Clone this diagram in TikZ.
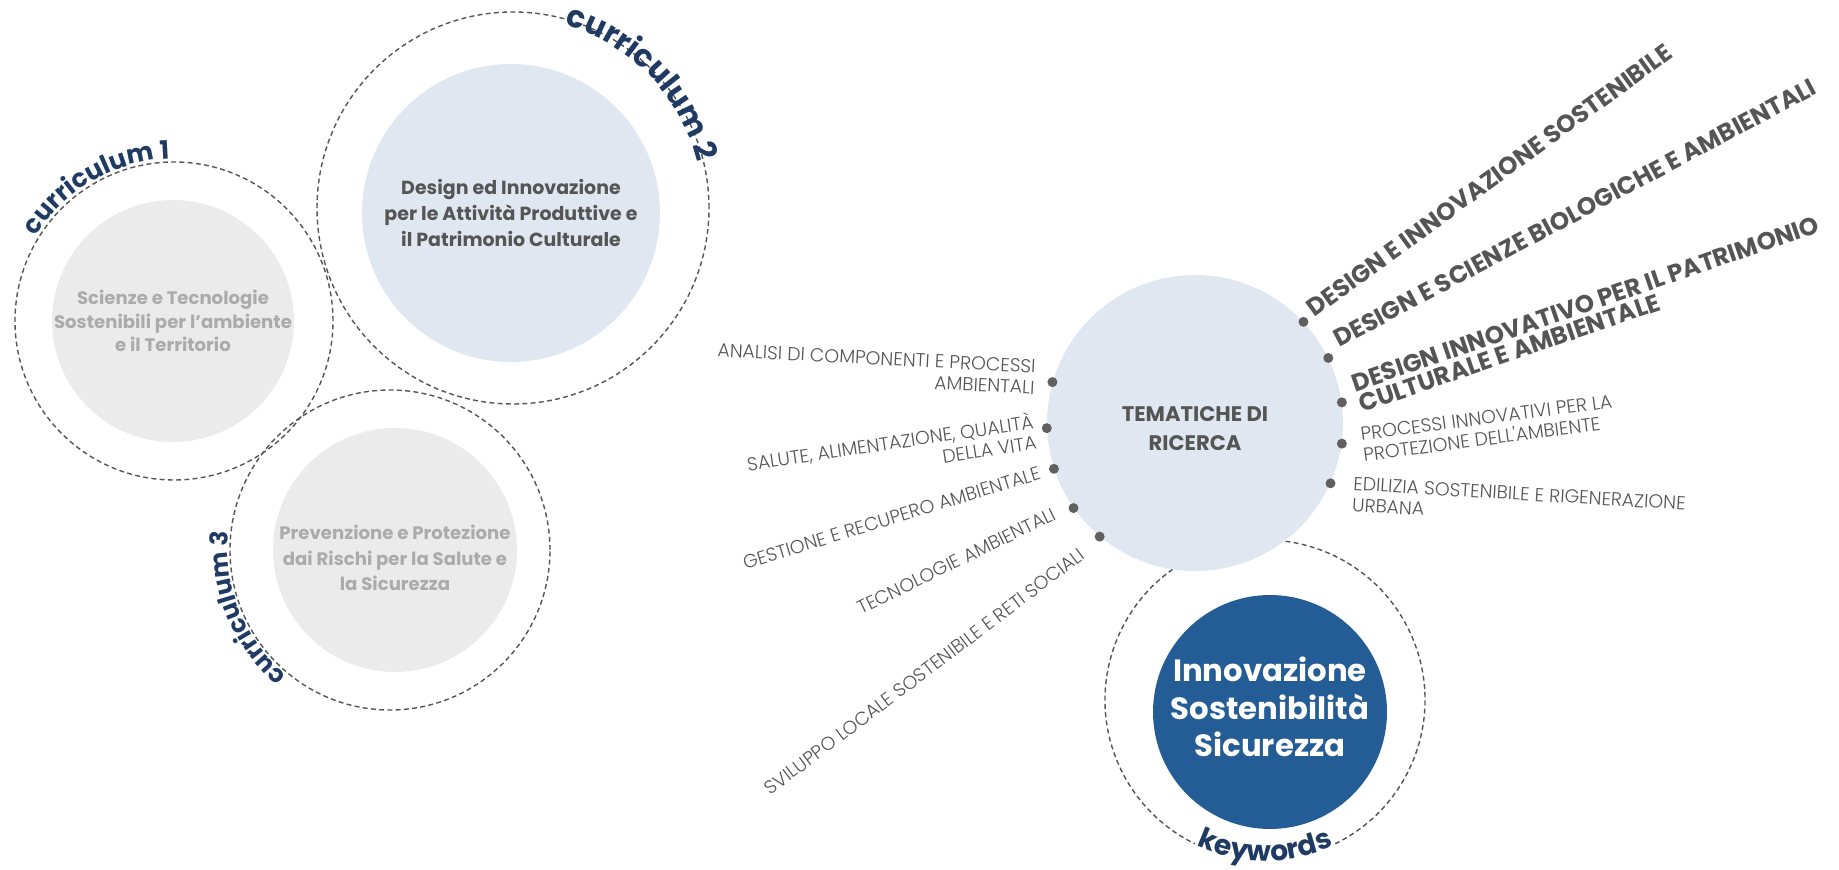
\documentclass[tikz,border=0pt]{standalone}
\usepackage{fontspec}
\setmainfont{Poppins}
\newfontfamily\lightfont{Poppins Light}
\usetikzlibrary{decorations.text}

\definecolor{navy}{HTML}{1F3B63}
\definecolor{inkgray}{HTML}{555555}
\definecolor{palegray}{HTML}{ABABAB}
\definecolor{fillgray}{HTML}{EBEBEB}
\definecolor{fillblue}{HTML}{E1E7F1}
\definecolor{deepblue}{HTML}{245C95}
\definecolor{dotgray}{HTML}{606060}
\definecolor{ringgray}{HTML}{555555}

\begin{document}
\begin{tikzpicture}[x=0.02cm,y=0.02cm,
  ring/.style={draw=ringgray,line width=0.8pt,dash pattern=on 2.8pt off 1.9pt},
  disc/.style={circle,inner sep=0pt},
  disctext/.style={inner sep=0pt,align=center,font=\bfseries\fontsize{10.3}{13.3}\selectfont},
  themedot/.style={circle,fill=dotgray,inner sep=0pt,minimum size=0.2cm},
  theme/.style={inner sep=0pt,text=inkgray,font=\lightfont\fontsize{10.7}{12}\selectfont},
  bigtheme/.style={inner sep=0pt,text=inkgray,font=\bfseries\fontsize{14}{12.5}\selectfont},
  arctext/.style={decorate,decoration={text along path,text align=center,text={#1}}}]
  \useasboundingbox (0,0) rectangle (1839,869);

  % curricula
  \node[disc,fill=fillgray,minimum size=4.84cm] (cur1) at (173,548) {};
  \node[disctext,text=palegray] at (cur1) {Scienze e Tecnologie\\Sostenibili per l'ambiente\\e il Territorio};
  \node[disc,fill=fillblue,minimum size=5.96cm] (cur2) at (511,656) {};
  \node[disctext,text=inkgray,font=\bfseries\fontsize{10.8}{15}\selectfont] at (cur2)
    {Design ed Innovazione\\per le Attività Produttive e\\il Patrimonio Culturale};
  \node[disc,fill=fillgray,minimum size=4.88cm] (cur3) at (395,319) {};
  \node[disctext,text=palegray,font=\bfseries\fontsize{10.3}{14.5}\selectfont] at ([yshift=-0.16cm]cur3.center)
    {Prevenzione e Protezione\\dai Rischi per la Salute e\\la Sicurezza};
  \draw[ring] (174,548) circle (159);
  \draw[ring] (513,661) circle (196);
  \draw[ring] (390,319) circle (160);
  \path[arctext={|\bfseries\fontsize{14.5}{14.5}\selectfont\color{navy}|curriculum 1}]
    (174,548) ++(175:162) arc[start angle=175,end angle=65,radius=162];
  \path[arctext={|\bfseries\fontsize{17.5}{17.5}\selectfont\color{navy}|curriculum 2}]
    (513,661) ++(94:190) arc[start angle=94,end angle=-6,radius=190];
  \path[arctext={|\bfseries\fontsize{14}{14}\selectfont\color{navy}|curriculum 3}]
    (390,319) ++(252:162) arc[start angle=252,end angle=152,radius=162];

  % keywords ring sits behind the themes disc
  \draw[ring] (1265,169) ++(-64:160) arc[start angle=-64,end angle=244,radius=160];

  % tematiche
  \node[disc,fill=fillblue,minimum size=5.92cm] (tem) at (1195,446) {};
  \node[disctext,text=inkgray,font=\bfseries\fontsize{12}{16.5}\selectfont] at ([yshift=-0.12cm]tem.center) {TEMATICHE DI\\RICERCA};
  \foreach \a [count=\i] in {43,26,8,-8,-24}
    \node[themedot] (d\i) at (tem.\a) {};
  \foreach \a [count=\i] in {164,182,198,215,230}
    \node[themedot] (e\i) at (tem.\a) {};

  \node[bigtheme,anchor=base west,rotate=36] (t1) at ([shift={(11,4)}]d1.center) {DESIGN E INNOVAZIONE SOSTENIBILE};
  \node[bigtheme,anchor=base west,rotate=28] (t2) at ([shift={(11,10)}]d2.center) {DESIGN E SCIENZE BIOLOGICHE E AMBIENTALI};
  \node[bigtheme,anchor=west,align=left,rotate=19] (t3) at ([shift={(14,8)}]d3.center) {DESIGN INNOVATIVO PER IL PATRIMONIO\\CULTURALE E AMBIENTALE};
  \node[theme,anchor=west,align=left,rotate=7.5] (t4) at ([shift={(20,-1)}]d4.center) {PROCESSI INNOVATIVI PER LA\\PROTEZIONE DELL'AMBIENTE};
  \node[theme,anchor=west,align=left,rotate=-3.4] (t5) at ([shift={(22,-11)}]d5.center) {EDILIZIA SOSTENIBILE E RIGENERAZIONE\\URBANA};

  \node[theme,anchor=east,align=right,rotate=-3] (s1) at ([shift={(-17,5)}]e1.center) {ANALISI DI COMPONENTI E PROCESSI\\AMBIENTALI};
  \node[theme,anchor=east,align=right,rotate=8.5] (s2) at ([shift={(-12,-2)}]e2.center) {SALUTE, ALIMENTAZIONE, QUALITÀ\\DELLA VITA};
  \node[theme,anchor=base east,rotate=17] (s3) at ([shift={(-12,-10)}]e3.center) {GESTIONE E RECUPERO AMBIENTALE};
  \node[theme,anchor=base east,rotate=26] (s4) at ([shift={(-16,-11)}]e4.center) {TECNOLOGIE AMBIENTALI};
  \node[theme,anchor=base east,rotate=37] (s5) at ([shift={(-13,-21)}]e5.center) {SVILUPPO LOCALE SOSTENIBILE E RETI SOCIALI};

  % keywords
  \node[disc,fill=deepblue,minimum size=4.68cm] (kw) at (1270,157) {};
  \node[disctext,text=white,font=\bfseries\fontsize{17.5}{21.3}\selectfont] at ([yshift=0.1cm]kw.center)
    {Innovazione\\Sostenibilità\\Sicurezza};
  \path[arctext={|\bfseries\fontsize{16}{16}\selectfont\color{navy}|keywords}]
    (1265,169) ++(220:161) arc[start angle=220,end angle=320,radius=161];
\end{tikzpicture}
\end{document}
